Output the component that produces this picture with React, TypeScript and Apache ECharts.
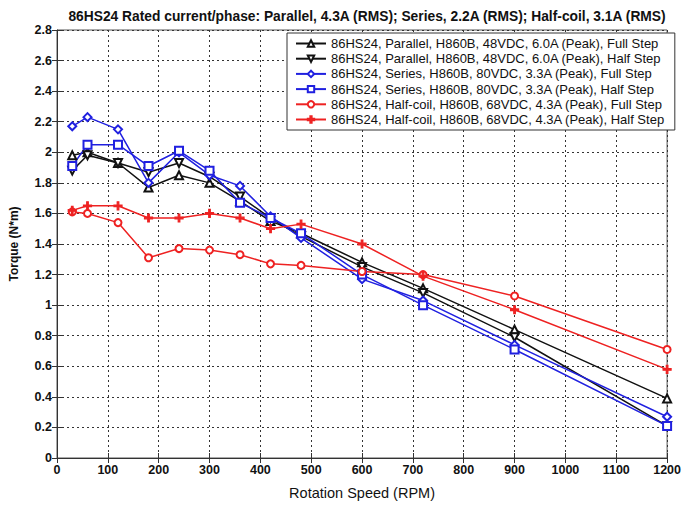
import React, { useEffect, useRef } from "react";
import * as echarts from "echarts";

const speeds = [30, 60, 120, 180, 240, 300, 360, 420, 480, 600, 720, 900, 1200];
const parallelFull = [1.98, 2.0, 1.93, 1.77, 1.85, 1.8, 1.68, 1.55, 1.47, 1.28, 1.11, 0.84, 0.39];
const parallelHalf = [1.88, 1.98, 1.93, 1.87, 1.93, 1.84, 1.71, 1.57, 1.45, 1.25, 1.08, 0.79, 0.21];
const seriesFull = [2.17, 2.23, 2.15, 1.8, 2.0, 1.85, 1.78, 1.58, 1.44, 1.17, 1.03, 0.74, 0.27];
const seriesHalf = [1.91, 2.05, 2.05, 1.91, 2.01, 1.88, 1.67, 1.57, 1.47, 1.2, 1.0, 0.71, 0.21];
const halfCoilFull = [1.61, 1.6, 1.54, 1.31, 1.37, 1.36, 1.33, 1.27, 1.26, 1.22, 1.2, 1.06, 0.71];
const halfCoilHalf = [1.62, 1.65, 1.65, 1.57, 1.57, 1.6, 1.57, 1.5, 1.53, 1.4, 1.19, 0.97, 0.58];

const seriesNames = [
  "86HS24, Parallel, H860B, 48VDC, 6.0A (Peak), Full Step",
  "86HS24, Parallel, H860B, 48VDC, 6.0A (Peak), Half Step",
  "86HS24, Series, H860B, 80VDC, 3.3A (Peak), Full Step",
  "86HS24, Series, H860B, 80VDC, 3.3A (Peak), Half Step",
  "86HS24, Half-coil, H860B, 68VDC, 4.3A (Peak), Full Step",
  "86HS24, Half-coil, H860B, 68VDC, 4.3A (Peak), Half Step",
];

const titleText =
  "86HS24 Rated current/phase: Parallel, 4.3A (RMS); Series, 2.2A (RMS); Half-coil, 3.1A (RMS)";

const FONT = "Liberation Sans, Arial, sans-serif";

export default function App() {
  const ref = useRef<HTMLDivElement>(null);
  useEffect(() => {
    if (!ref.current) return;
    const chart = echarts.init(ref.current, null, { renderer: "svg" });
    const black = "#111111";
    const blue = "#2020e0";
    const red = "#ee2222";
    const plus = "path://M4,0H6V4H10V6H6V10H4V6H0V4H4Z";
    const mk = (
      name: string,
      data: number[],
      color: string,
      symbol: string,
      rotate = 0,
      size = 7
    ) => ({
      name,
      type: "line",
      data: speeds.map((s, i) => [s, data[i]]),
      symbol,
      symbolSize: size,
      symbolRotate: rotate,
      showAllSymbol: true,
      lineStyle: { color, width: 1.5 },
      itemStyle: { color, borderColor: color, borderWidth: 1.2 },
      z: 3,
    });
    chart.setOption({
      animation: false,
      backgroundColor: "#ffffff",
      title: {
        text: titleText,
        left: 362,
        textAlign: "center",
        top: 4,
        textStyle: { fontFamily: FONT, fontSize: 13.8, fontWeight: "bold", color: "#111" },
      },
      grid: { left: 55, right: 13, top: 30, bottom: 39, show: true, borderColor: "#555", borderWidth: 1 },
      legend: {
        orient: "vertical",
        left: 287,
        top: 33,
        itemWidth: 30,
        itemHeight: 8,
        itemGap: 2.2,
        padding: [4, 10, 4, 8],
        backgroundColor: "#ffffff",
        borderColor: "#333",
        borderWidth: 1,
        textStyle: { fontFamily: FONT, fontSize: 13, color: "#111" },
        data: seriesNames,
      },
      xAxis: [
        {
          type: "value",
          min: 0,
          max: 1200,
          interval: 100,
          name: "Rotation Speed (RPM)",
          nameLocation: "middle",
          nameGap: 27,
          nameTextStyle: { fontFamily: FONT, fontSize: 14.5, color: "#111" },
          axisLine: { show: true, lineStyle: { color: "#333" } },
          axisTick: { show: true, inside: true, length: 5, lineStyle: { color: "#333" } },
          axisLabel: {
            fontFamily: FONT,
            fontSize: 12.5,
            fontWeight: "bold",
            color: "#111",
            margin: 5,
            formatter: (v: number) => String(v),
          },
          splitLine: { show: true, lineStyle: { color: "#333", type: [2, 3], width: 1 } },
        },
        {
          type: "value",
          position: "top",
          min: 0,
          max: 1200,
          interval: 100,
          axisLine: { show: false },
          axisTick: { show: true, inside: true, length: 5, lineStyle: { color: "#333" } },
          axisLabel: { show: false },
          splitLine: { show: false },
        },
      ],
      yAxis: [
        {
          type: "value",
          min: 0,
          max: 2.8,
          interval: 0.2,
          name: "Torque (N*m)",
          nameLocation: "middle",
          nameGap: 37,
          nameTextStyle: { fontFamily: FONT, fontSize: 12, fontWeight: "bold", color: "#111" },
          axisLine: { show: true, lineStyle: { color: "#333" } },
          axisTick: { show: true, inside: true, length: 5, lineStyle: { color: "#333" } },
          axisLabel: { fontFamily: FONT, fontSize: 12.5, fontWeight: "bold", color: "#111", margin: 5 },
          splitLine: { show: true, lineStyle: { color: "#333", type: [2, 3], width: 1 } },
        },
        {
          type: "value",
          position: "right",
          min: 0,
          max: 2.8,
          interval: 0.2,
          axisLine: { show: false },
          axisTick: { show: true, inside: true, length: 5, lineStyle: { color: "#333" } },
          axisLabel: { show: false },
          splitLine: { show: false },
        },
      ],
      series: [
        mk(seriesNames[0], parallelFull, black, "emptyTriangle", 0, 8),
        mk(seriesNames[1], parallelHalf, black, "emptyTriangle", 180, 8),
        mk(seriesNames[2], seriesFull, blue, "emptyDiamond", 0, 8),
        mk(seriesNames[3], seriesHalf, blue, "emptyRect", 0, 8),
        mk(seriesNames[4], halfCoilFull, red, "emptyCircle", 0, 7),
        mk(seriesNames[5], halfCoilHalf, red, plus, 0, 8),
      ],
    });
    return () => chart.dispose();
  }, []);
  return (
    <div
      ref={ref}
      style={{ position: "fixed", left: 0, top: 0, width: 684, height: 505, background: "#fff" }}
    />
  );
}
